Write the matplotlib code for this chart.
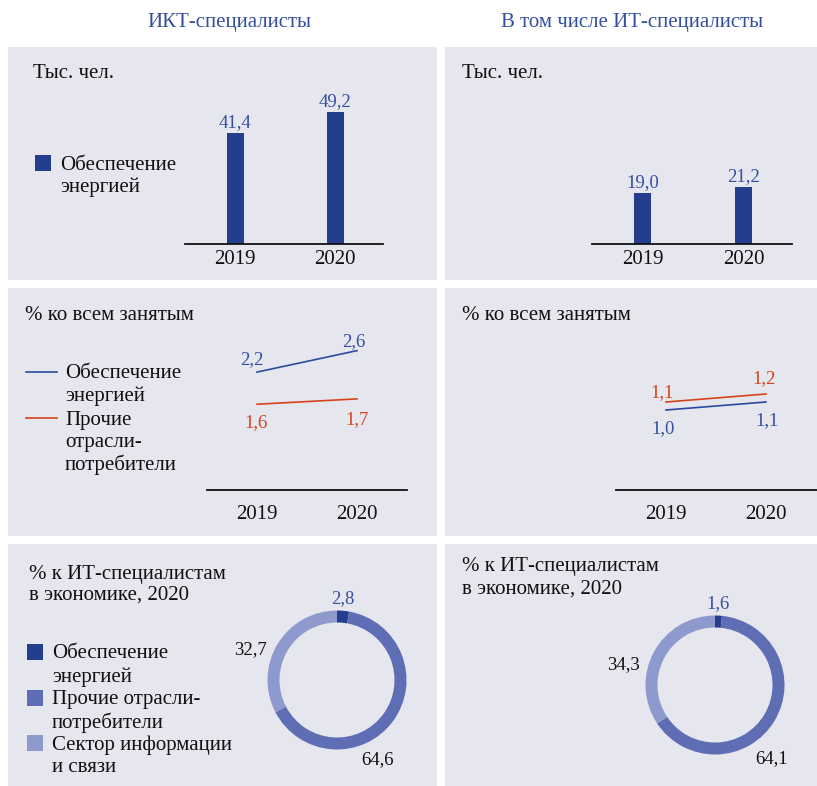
import matplotlib
matplotlib.use('Agg')
import matplotlib.pyplot as plt
from matplotlib.patches import Rectangle

plt.rcParams['font.family'] = ['Liberation Serif', 'DejaVu Serif']

# data
years = ['2019', '2020']
ikt_thous = [41.4, 49.2]
it_thous = [19.0, 21.2]
ikt_share_energy = [2.2, 2.6]
ikt_share_other = [1.6, 1.7]
it_share_energy = [1.0, 1.1]
it_share_other = [1.1, 1.2]
donut_labels = ['Обеспечение\nэнергией', 'Прочие отрасли-\nпотребители', 'Сектор информации\nи связи']
donut_left = [2.8, 64.6, 32.7]
donut_right = [1.6, 64.1, 34.3]

W, H = 817, 786
BG = '#e6e6ee'
NAVY = '#243d8c'
MID = '#5f6eb4'
LIGHT = '#8e9ace'
LBLUE = '#2b4a9e'
RED = '#d5441b'
TXTBLUE = '#34509f'
BLACK = '#111111'
FS = 15
VFS = 13.5
DY = 2  # va='center' sits a touch high for this font

fig = plt.figure(figsize=(W / 100, H / 100), dpi=100, facecolor='white')
bg = fig.add_axes([0, 0, 1, 1], zorder=-1)
bg.set_xlim(0, W)
bg.set_ylim(H, 0)
bg.axis('off')

def fmt(v):
    return f'{v:.1f}'.replace('.', ',')

def px_axes(x0, y0, x1, y1):
    ax = fig.add_axes([x0 / W, 1 - y1 / H, (x1 - x0) / W, (y1 - y0) / H])
    ax.patch.set_alpha(0)
    return ax

def txt(x, y, s, **kw):
    kw.setdefault('fontsize', FS)
    kw.setdefault('color', BLACK)
    kw.setdefault('va', 'center')
    bg.text(x, y + DY, s, **kw)

def lines_text(x, y, lines, step=22.5):
    for i, s in enumerate(lines):
        txt(x, y + i * step, s)

# panels
for x0, x1 in [(8, 437), (445, 817)]:
    for y0, y1 in [(47, 280), (288, 536), (544, 786)]:
        bg.add_patch(Rectangle((x0, y0), x1 - x0, y1 - y0, facecolor=BG, edgecolor='none'))

txt(229, 20, 'ИКТ-специалисты', ha='center', color=TXTBLUE)
txt(632, 20, 'В том числе ИТ-специалисты', ha='center', color=TXTBLUE)

# row 1: bars
txt(33, 72, 'Тыс. чел.')
txt(462, 72, 'Тыс. чел.')
bg.add_patch(Rectangle((35, 155), 16, 16, facecolor=NAVY, edgecolor='none'))
lines_text(60, 163, ['Обеспечение', 'энергией'])

for (x0, x1), vals in [((185, 383), ikt_thous), ((592, 792), it_thous)]:
    ax = px_axes(x0, 64, x1, 244)
    xs = range(len(years))
    ax.bar(xs, vals, width=0.17, color=NAVY)
    for i, v in zip(xs, vals):
        ax.annotate(fmt(v), (i, v), xytext=(0, 1.5), textcoords='offset points',
                    ha='center', va='bottom', fontsize=VFS, color=TXTBLUE)
    ax.set_xlim(-0.5, 1.48)
    ax.set_ylim(0, 180 / 2.68)
    for s in ['top', 'left', 'right']:
        ax.spines[s].set_visible(False)
    ax.spines['bottom'].set_linewidth(1.3)
    ax.spines['bottom'].set_color(BLACK)
    ax.set_yticks([])
    ax.set_xticks(list(xs), years)
    ax.tick_params(axis='x', length=0, pad=4.5, labelsize=FS, labelcolor=BLACK)

# row 2: lines
txt(25, 313, '% ко всем занятым')
txt(462, 313, '% ко всем занятым')
bg.plot([26, 57], [372, 372], color=LBLUE, lw=1.2)
lines_text(65, 372, ['Обеспечение', 'энергией'])
bg.plot([26, 57], [418, 418], color=RED, lw=1.2)
lines_text(65, 418, ['Прочие', 'отрасли-', 'потребители'])

line_panels = [
    ((207, 407), 53.6, ikt_share_energy, ikt_share_other,
     [(-5, 14), (-3, 11)], [(-1, -16), (0, -19)]),
    ((616, 817), 80.0, it_share_energy, it_share_other,
     [(-3, -17), (1, -17)], [(-4, 11), (-2, 17)]),
]
for (x0, x1), scale, en, oth, en_off, oth_off in line_panels:
    ax = px_axes(x0, 330, x1, 490)
    xs = list(range(len(years)))
    ax.plot(xs, en, color=LBLUE, lw=1.2)
    ax.plot(xs, oth, color=RED, lw=1.2)
    for vals, offs, c in [(en, en_off, TXTBLUE), (oth, oth_off, RED)]:
        for i, v, (dx, dy) in zip(xs, vals, offs):
            ax.annotate(fmt(v), (i, v), xytext=(dx * 0.72, (dy - DY) * 0.72), textcoords='offset points',
                        ha='center', va='center', fontsize=VFS, color=c)
    ax.set_xlim(-0.5, -0.5 + (x1 - x0) / 100)
    ax.set_ylim(0, 160 / scale)
    for s in ['top', 'left', 'right']:
        ax.spines[s].set_visible(False)
    ax.spines['bottom'].set_linewidth(1.3)
    ax.spines['bottom'].set_color(BLACK)
    ax.set_yticks([])
    ax.set_xticks(xs, years)
    ax.tick_params(axis='x', length=0, pad=11, labelsize=FS, labelcolor=BLACK)

# row 3: donuts
lines_text(29, 572, ['% к ИТ-специалистам', 'в экономике, 2020'], step=21.5)
lines_text(462, 565, ['% к ИТ-специалистам', 'в экономике, 2020'], step=22.5)
for i, (lab, c) in enumerate(zip(donut_labels, [NAVY, MID, LIGHT])):
    y = 652 + i * 45.5
    bg.add_patch(Rectangle((27, y - 8), 16, 16, facecolor=c, edgecolor='none'))
    lines_text(52, y, lab.split('\n'), step=23)

R = 69.5
donut_panels = [
    ((337, 680), donut_left, [(6, 83), (40, -78), (-87, 32)]),
    ((715, 685), donut_right, [(3, 83), (57, -72), (-92, 22)]),
]
for (cx, cy), vals, offs in donut_panels:
    ax = px_axes(cx - R, cy - R, cx + R, cy + R)
    ax.pie(vals, colors=[NAVY, MID, LIGHT], startangle=90, counterclock=False,
           radius=1, wedgeprops=dict(width=12 / R, edgecolor='none'))
    ax.set_xlim(-1, 1)
    ax.set_ylim(-1, 1)
    for v, (dx, dy), c in zip(vals, offs, [TXTBLUE, BLACK, BLACK]):
        ax.text(dx / R, (dy - DY) / R, fmt(v), ha='center', va='center', fontsize=VFS, color=c, clip_on=False)

fig.savefig('out.png', dpi=100, facecolor='white')
